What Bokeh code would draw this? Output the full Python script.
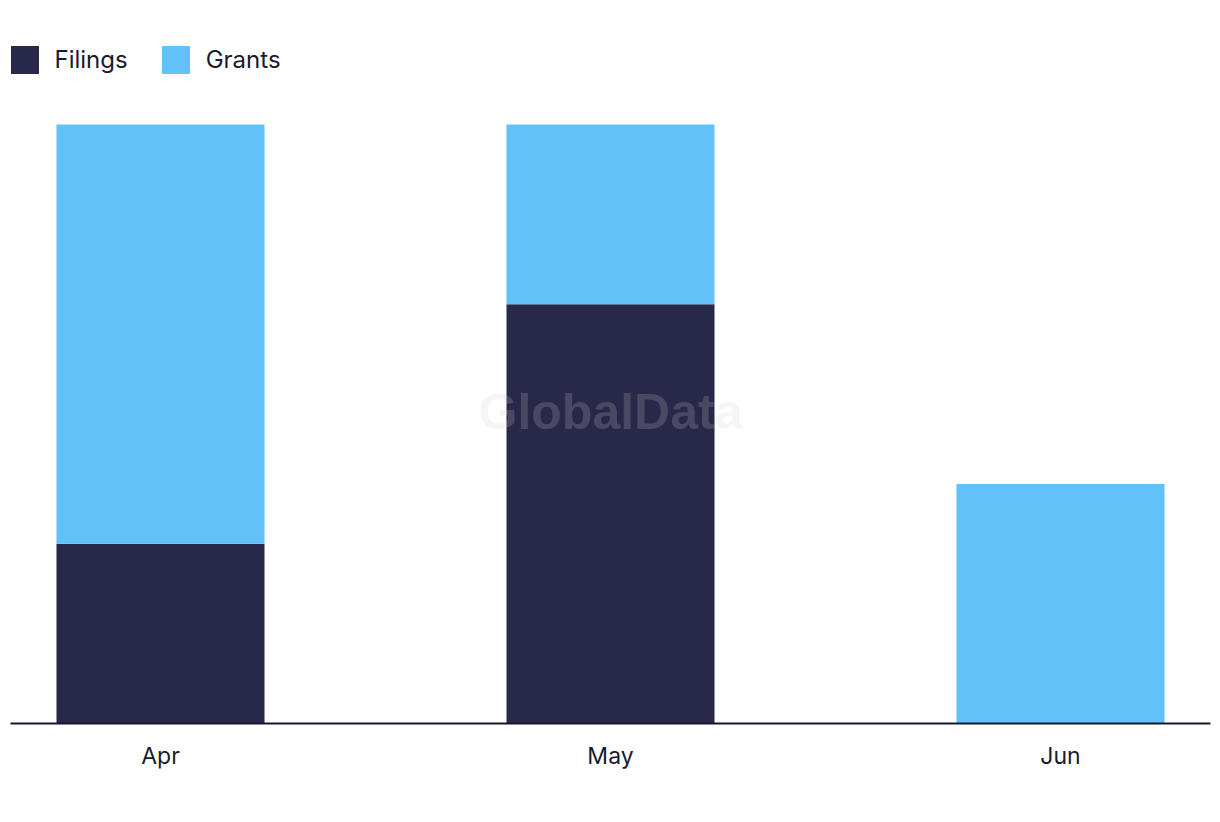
from bokeh.plotting import figure
from bokeh.models import Range1d, FixedTicker, ColumnDataSource, Legend, LegendItem, Label
from bokeh.embed import file_html
from bokeh.resources import INLINE

months = ["Apr", "May", "Jun"]
filings = [3, 7, 0]
grants = [7, 3, 4]
series = ["Filings", "Grants"]
colors = ["#28284a", "#62c1f8"]

idx = list(range(len(months)))
src = ColumnDataSource(dict(x=idx, Filings=filings, Grants=grants))

x0 = -150 / 450
p = figure(width=1220, height=822, output_backend="svg", toolbar_location=None,
           x_range=Range1d(x0, x0 + 1200 / 450), y_range=Range1d(0, 723 / 59.9),
           min_border_left=10, min_border_right=10, min_border_top=0, min_border_bottom=99)
p.outline_line_color = None
p.grid.visible = False
p.yaxis.visible = False

r = p.vbar_stack(series, x="x", width=208 / 450, color=colors, source=src, line_width=0)

ax = p.xaxis[0]
ax.ticker = FixedTicker(ticks=idx)
ax.major_label_overrides = {i: m for i, m in zip(idx, months)}
ax.major_tick_line_color = None
ax.minor_tick_line_color = None
ax.axis_line_color = "#16162a"
ax.axis_line_width = 2
ax.major_label_text_font = "Inter"
ax.major_label_text_font_size = "23px"
ax.major_label_text_color = "#1a1a2e"
ax.major_label_standoff = 12

wm = Label(x=(idx[0] + idx[-1]) / 2, y=723 - 411, x_units="data", y_units="screen", text="GlobalData",
           text_font="Liberation Sans", text_font_style="bold", text_font_size="50px",
           text_color="#cecece", text_alpha=0.2, text_align="center", text_baseline="middle")
p.add_layout(wm)

legend = Legend(items=[LegendItem(label=s, renderers=[rr]) for s, rr in zip(series, r)],
                orientation="horizontal", location=(-3.5, 646.5),
                glyph_width=35, glyph_height=35, label_text_font="Inter",
                label_text_font_size="24px", label_text_color="#1a1a2e",
                border_line_color=None, background_fill_alpha=0,
                spacing=30, label_standoff=13, padding=0, margin=0)
p.add_layout(legend)

open("out.html", "w").write(file_html(p, INLINE))
